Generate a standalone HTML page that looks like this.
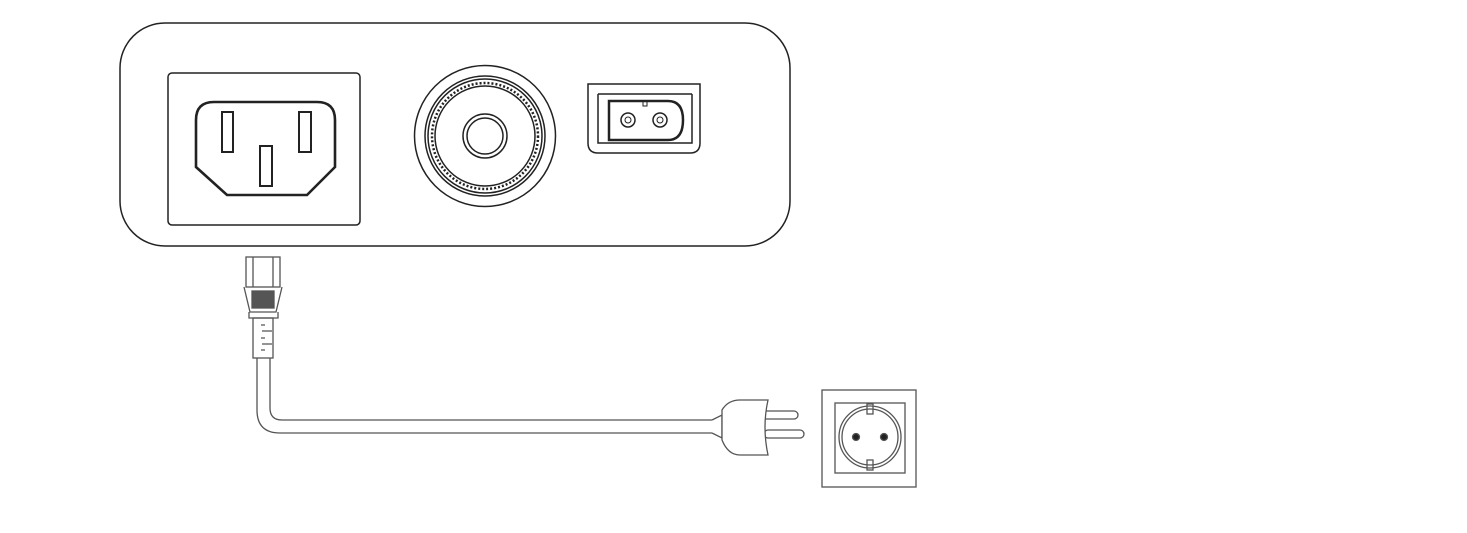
<!DOCTYPE html>
<html><head><style>html,body{margin:0;padding:0;background:#fff}svg{display:block}</style></head>
<body>
<svg width="1467" height="533" viewBox="0 0 1467 533" xmlns="http://www.w3.org/2000/svg" fill="none" stroke="#222" stroke-width="1.5">
<rect x="120" y="23" width="670" height="223" rx="45"/>
<rect x="168" y="73" width="192" height="152" rx="4"/>
<path d="M196 167 V120 Q196 102 214 102 H317 Q335 102 335 120 V167 L307 195 H227 Z" stroke-width="2.6"/>
<rect x="222" y="112" width="11" height="40" stroke-width="2"/>
<rect x="299" y="112" width="12" height="40" stroke-width="2"/>
<rect x="260" y="146" width="12" height="40" stroke-width="2"/>
<circle cx="485" cy="136" r="70.5"/>
<circle cx="485" cy="136" r="60"/>
<circle cx="485" cy="136" r="57"/>
<circle cx="485" cy="136" r="53" stroke-dasharray="2 2" stroke-width="2.5"/>
<circle cx="485" cy="136" r="50"/>
<circle cx="485" cy="136" r="22"/>
<circle cx="485" cy="136" r="18"/>
<path d="M588 84 H700 V143 Q700 153 690 153 H598 Q588 153 588 143 Z"/>
<path d="M598 94 V143 H692 V94 M598 94 H692"/>
<path d="M609 101 H668 Q683 101 683 120 Q683 140 668 140 H609 Z" stroke-width="2.5"/>
<rect x="643" y="101" width="4" height="5" stroke-width="1"/>
<circle cx="628" cy="120" r="7"/><circle cx="628" cy="120" r="3" stroke-width="1"/>
<circle cx="660" cy="120" r="7"/><circle cx="660" cy="120" r="3" stroke-width="1"/>
<g stroke="#555" stroke-width="1.3">
<rect x="246" y="257" width="34" height="30"/>
<path d="M253 257 V287 M273 257 V287"/>
<path d="M244 287 L250 312 L276 312 L282 287"/>
<rect x="252" y="291" width="22" height="17" fill="#555"/>
<path d="M249 312 V318 H278 V312"/>
<rect x="253" y="318" width="20" height="40"/>
<path d="M261 325 H265 M262 331 H272 M261 338 H265 M262 344 H272 M261 350 H265"/>
<path d="M257 358 V410 Q257 433 280 433 H712 M270 358 V408 Q270 420 282 420 H712"/>
<path d="M712 420 L722 415 V438 L712 433"/>
<rect x="758" y="411" width="40" height="8" rx="4"/>
<rect x="764" y="430" width="40" height="8" rx="4"/>
<path d="M722 410 Q728 400 740 400 H768 Q762 427 768 455 H740 Q728 455 722 440 Z" fill="#fff"/>
<rect x="822" y="390" width="94" height="97"/>
<rect x="835" y="403" width="70" height="70"/>
<circle cx="870" cy="437" r="31"/>
<circle cx="870" cy="437" r="28"/>
<rect x="867" y="404" width="6" height="10"/>
<rect x="867" y="460" width="6" height="10"/>
<circle cx="856" cy="437" r="3.5" fill="#222"/>
<circle cx="884" cy="437" r="3.5" fill="#222"/>
</g>
</svg>
</body></html>
